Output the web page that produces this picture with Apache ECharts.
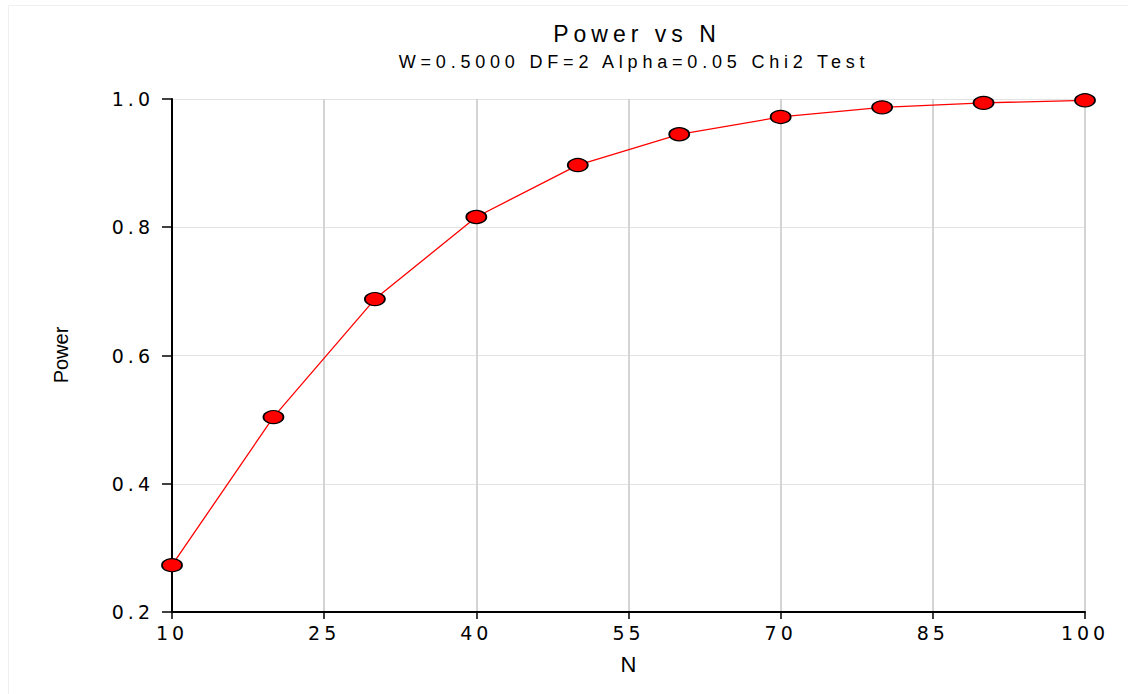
<!DOCTYPE html>
<html><head><meta charset="utf-8">
<script src="https://cdn.jsdelivr.net/npm/echarts@6/dist/echarts.min.js"></script>
<style>
html,body{margin:0;padding:0;background:#fff}
#c{width:1128px;height:694px}
#c text[style*="23px"]{letter-spacing:5px}
#c text[style*="18px"]{letter-spacing:4.8px}
#c text[style*="19px"]{letter-spacing:4px}
</style>
</head><body><div id="c"></div>
<script>
const nValues = [10, 20, 30, 40, 50, 60, 70, 80, 90, 100];
const powerValues = [0.273, 0.504, 0.688, 0.816, 0.897, 0.945, 0.972, 0.987, 0.994, 0.998];
const titleText = 'Power vs N';
const subtitleText = 'W=0.5000 DF=2 Alpha=0.05 Chi2 Test';
const xAxisName = 'N';
const yAxisName = 'Power';

const chart = echarts.init(document.getElementById('c'), null, {renderer: 'svg'});
chart.setOption({
  animation: false,
  backgroundColor: '#fff',
  title: [
    {text: titleText, left: 632, top: 17, textAlign: 'center',
     textStyle: {fontFamily: 'Liberation Sans', fontSize: 23, fontWeight: 'normal', color: '#000'}},
    {text: subtitleText, left: 629, top: 48, textAlign: 'center',
     textStyle: {fontFamily: 'Liberation Sans', fontSize: 18, fontWeight: 'normal', color: '#000'}}
  ],
  graphic: [
    {type: 'line', shape: {x1: 8.5, y1: 5.5, x2: 1128, y2: 5.5}, style: {stroke: '#f0f0f0', lineWidth: 1}, silent: true},
    {type: 'line', shape: {x1: 8.5, y1: 5.5, x2: 8.5, y2: 694}, style: {stroke: '#f0f0f0', lineWidth: 1}, silent: true},
    {type: 'text', x: 61, y: 355, rotation: Math.PI / 2, silent: true,
     style: {text: yAxisName, font: '20px "Liberation Sans"', fill: '#000', align: 'center', verticalAlign: 'middle'}}
  ],
  grid: {left: 172, right: 43, top: 99, bottom: 82},
  xAxis: {
    type: 'value', min: 10, max: 100, interval: 15,
    name: xAxisName, nameLocation: 'middle', nameGap: 41,
    nameTextStyle: {fontFamily: 'Liberation Sans', fontSize: 22, color: '#000'},
    axisLine: {show: true, onZero: false, lineStyle: {color: '#000', width: 2}},
    axisTick: {show: true, length: 7, lineStyle: {color: '#000', width: 1.5}},
    axisLabel: {fontFamily: 'DejaVu Sans', fontSize: 19, color: '#000', margin: 11},
    splitLine: {show: true, lineStyle: {color: '#d4d4d4', width: 2}}
  },
  yAxis: {
    type: 'value', min: 0.2, max: 1.0, interval: 0.2,
    axisLine: {show: true, onZero: false, lineStyle: {color: '#000', width: 2}},
    axisTick: {show: true, length: 10, lineStyle: {color: '#000', width: 1.5}},
    axisLabel: {fontFamily: 'DejaVu Sans', fontSize: 19, color: '#000', margin: 18,
      formatter: v => v.toFixed(1)},
    splitLine: {show: true, lineStyle: {color: '#e2e2e2', width: 1}}
  },
  series: [{
    type: 'line',
    data: nValues.map((n, i) => [n, powerValues[i]]),
    symbol: 'circle', symbolSize: [20, 13],
    lineStyle: {color: '#ff0000', width: 1.3},
    itemStyle: {color: '#ff0000', borderColor: '#000', borderWidth: 1.5},
    z: 5
  }]
});
</script></body></html>
